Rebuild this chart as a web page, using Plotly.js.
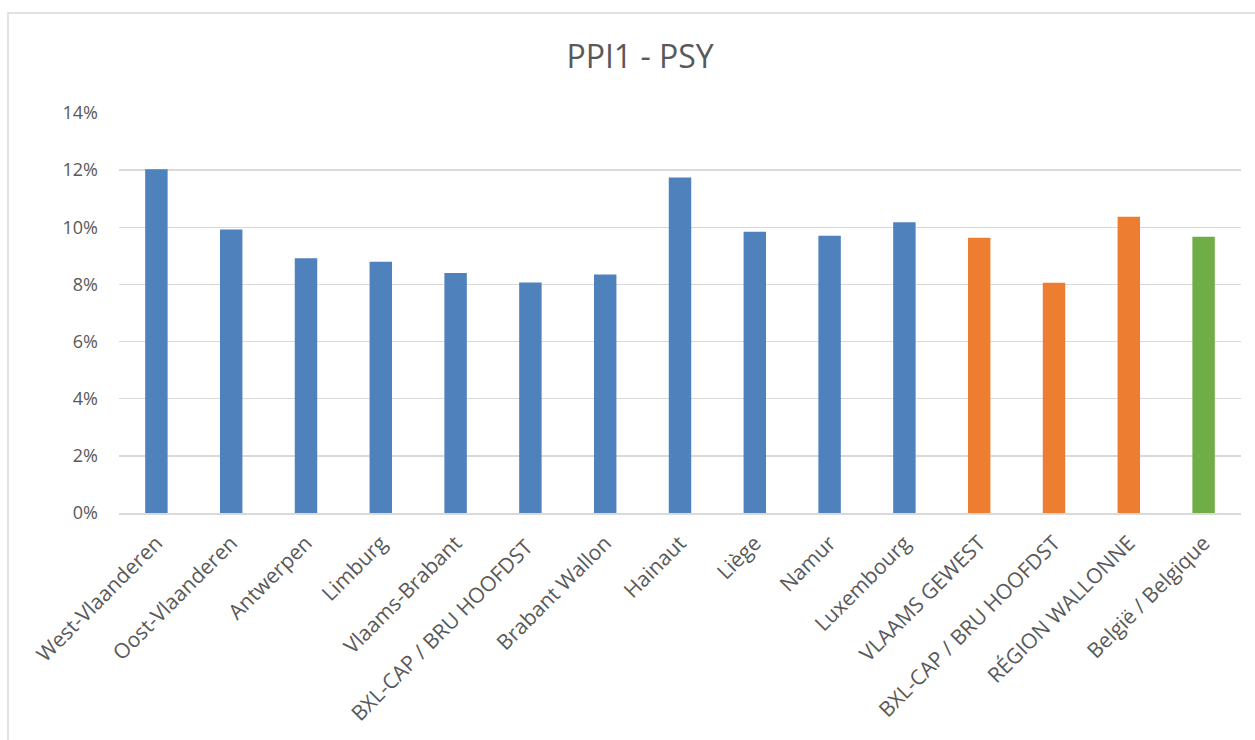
<!DOCTYPE html>
<html>
<head>
<meta charset="utf-8">
<script src="https://cdn.plot.ly/plotly-3.0.1.min.js"></script>
<style>html,body{margin:0;padding:0;background:#fff;}#chart{width:1255px;height:740px;}</style>
</head>
<body>
<div id="chart"></div>
<script>
const categories = ["West-Vlaanderen","Oost-Vlaanderen","Antwerpen","Limburg","Vlaams-Brabant","BXL-CAP / BRU HOOFDST ","Brabant Wallon","Hainaut","Liège","Namur","Luxembourg","VLAAMS GEWEST","BXL-CAP / BRU HOOFDST","RÉGION WALLONNE","België / Belgique"];
const values = [0.1203, 0.0992, 0.0892, 0.0879, 0.0840, 0.0807, 0.0835, 0.1174, 0.0984, 0.0970, 0.1018, 0.0963, 0.0806, 0.1037, 0.0967];
const groups = ["prov","prov","prov","prov","prov","prov","prov","prov","prov","prov","prov","region","region","region","country"];
const groupColors = {prov: "#4F81BD", region: "#ED7D31", country: "#70AD47"};
const yTicks = [0, 0.02, 0.04, 0.06, 0.08, 0.10, 0.12, 0.14];

const trace = {
  type: "bar",
  x: categories,
  y: values,
  marker: {color: groups.map(g => groupColors[g])},
  width: 0.3,
  hoverinfo: "x+y"
};

const font = "'Segoe UI', 'Open Sans', 'Noto Sans', sans-serif";
const layout = {
  width: 1255,
  height: 740,
  margin: {l: 119, r: 14, t: 113, b: 227},
  paper_bgcolor: "#ffffff",
  plot_bgcolor: "#ffffff",
  showlegend: false,
  title: {
    text: "PPI1 - PSY",
    font: {family: font, size: 32, color: "#595959"},
    x: 0.51, xanchor: "center",
    y: 0.923, yanchor: "middle"
  },
  xaxis: {
    type: "category",
    tickangle: -45,
    tickfont: {family: font, size: 21, color: "#595959"},
    showgrid: false,
    showline: true,
    linecolor: "#d9d9d9",
    linewidth: 1.5,
    ticks: "",
    ticklabelstandoff: 8,
    fixedrange: true
  },
  yaxis: {
    range: [0, 0.14],
    tickvals: yTicks,
    ticktext: yTicks.map(v => Math.round(v * 100) + "%"),
    tickfont: {family: font, size: 18, color: "#595959"},
    showgrid: true,
    gridcolor: "#d9d9d9",
    gridwidth: 1.5,
    zeroline: false,
    showline: false,
    ticks: "",
    ticklabelstandoff: 20,
    fixedrange: true
  },
  shapes: [{
    type: "rect",
    xref: "paper", yref: "paper",
    x0: (8 - 119) / 1122, x1: 1.2,
    y0: -1, y1: (513 - 13) / 400,
    line: {color: "#d9d9d9", width: 1.5},
    fillcolor: "rgba(0,0,0,0)",
    layer: "below"
  }]
};

Plotly.newPlot("chart", [trace], layout, {displayModeBar: false, staticPlot: true});
</script>
</body>
</html>
